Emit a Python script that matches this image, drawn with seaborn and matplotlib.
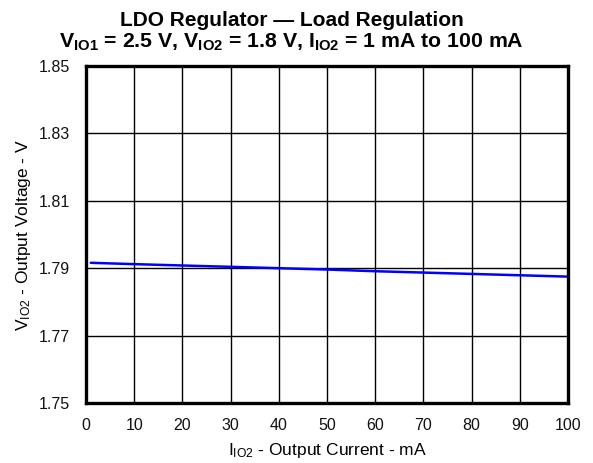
import numpy as np
import pandas as pd
import matplotlib
matplotlib.use('Agg')
import matplotlib.pyplot as plt
import seaborn as sns

# data
current_ma = [1, 10, 20, 30, 40, 50, 60, 70, 80, 90, 100]
vout_v = [1.7916, 1.7912, 1.7908, 1.7904, 1.7900, 1.7896, 1.7891, 1.7887, 1.7883, 1.7879, 1.7875]
x_ticks = [0, 10, 20, 30, 40, 50, 60, 70, 80, 90, 100]
y_ticks = [1.75, 1.77, 1.79, 1.81, 1.83, 1.85]

df = pd.DataFrame({'I': current_ma, 'V': vout_v})

sns.set_style('white')
plt.rcParams['font.family'] = ['Liberation Sans', 'DejaVu Sans']
plt.rcParams['mathtext.fontset'] = 'custom'
plt.rcParams['mathtext.rm'] = 'Liberation Sans'
plt.rcParams['mathtext.it'] = 'Liberation Sans'
plt.rcParams['mathtext.bf'] = 'Liberation Sans:bold'
plt.rcParams['text.color'] = 'black'
plt.rcParams['axes.labelcolor'] = 'black'

fig = plt.figure(figsize=(5.93, 4.63), dpi=100)
ax = fig.add_axes([0.1450, 0.1296, 0.8128, 0.7279])

sns.lineplot(data=df, x='I', y='V', ax=ax, color='#0000ff', linewidth=1.8)

ax.set_xlim(0, 100)
ax.set_ylim(1.75, 1.85)
ax.set_xticks(x_ticks)
ax.set_yticks(y_ticks)
ax.set_yticklabels([f'{v:.2f}' for v in y_ticks])
ax.tick_params(axis='both', length=0, labelsize=11.5, colors='#111111')
ax.tick_params(axis='x', pad=10.5)
ax.tick_params(axis='y', pad=11.5)
ax.grid(True, color='black', linewidth=1.0)
for s in ax.spines.values():
    s.set_color('black')
    s.set_linewidth(2.4)

ax.set_xlabel(r'I$_{\mathregular{IO2}}$ - Output Current - mA', fontsize=12.5, labelpad=6)
ax.set_ylabel(r'V$_{\mathregular{IO2}}$ - Output Voltage - V', fontsize=12.5, labelpad=4)

fig.text(0.492, 1 - 26 / 463, 'LDO Regulator \u2014 Load Regulation',
         ha='center', va='baseline', fontsize=15, fontweight='bold')
fig.text(0.492, 1 - 48 / 463,
         r'$\mathbf{V_{IO1}}$ = 2.5 V, $\mathbf{V_{IO2}}$ = 1.8 V, '
         r'$\mathbf{I_{IO2}}$ = 1 mA to 100 mA',
         ha='center', va='baseline', fontsize=15.3, fontweight='bold')

fig.savefig('out.png', dpi=100)
